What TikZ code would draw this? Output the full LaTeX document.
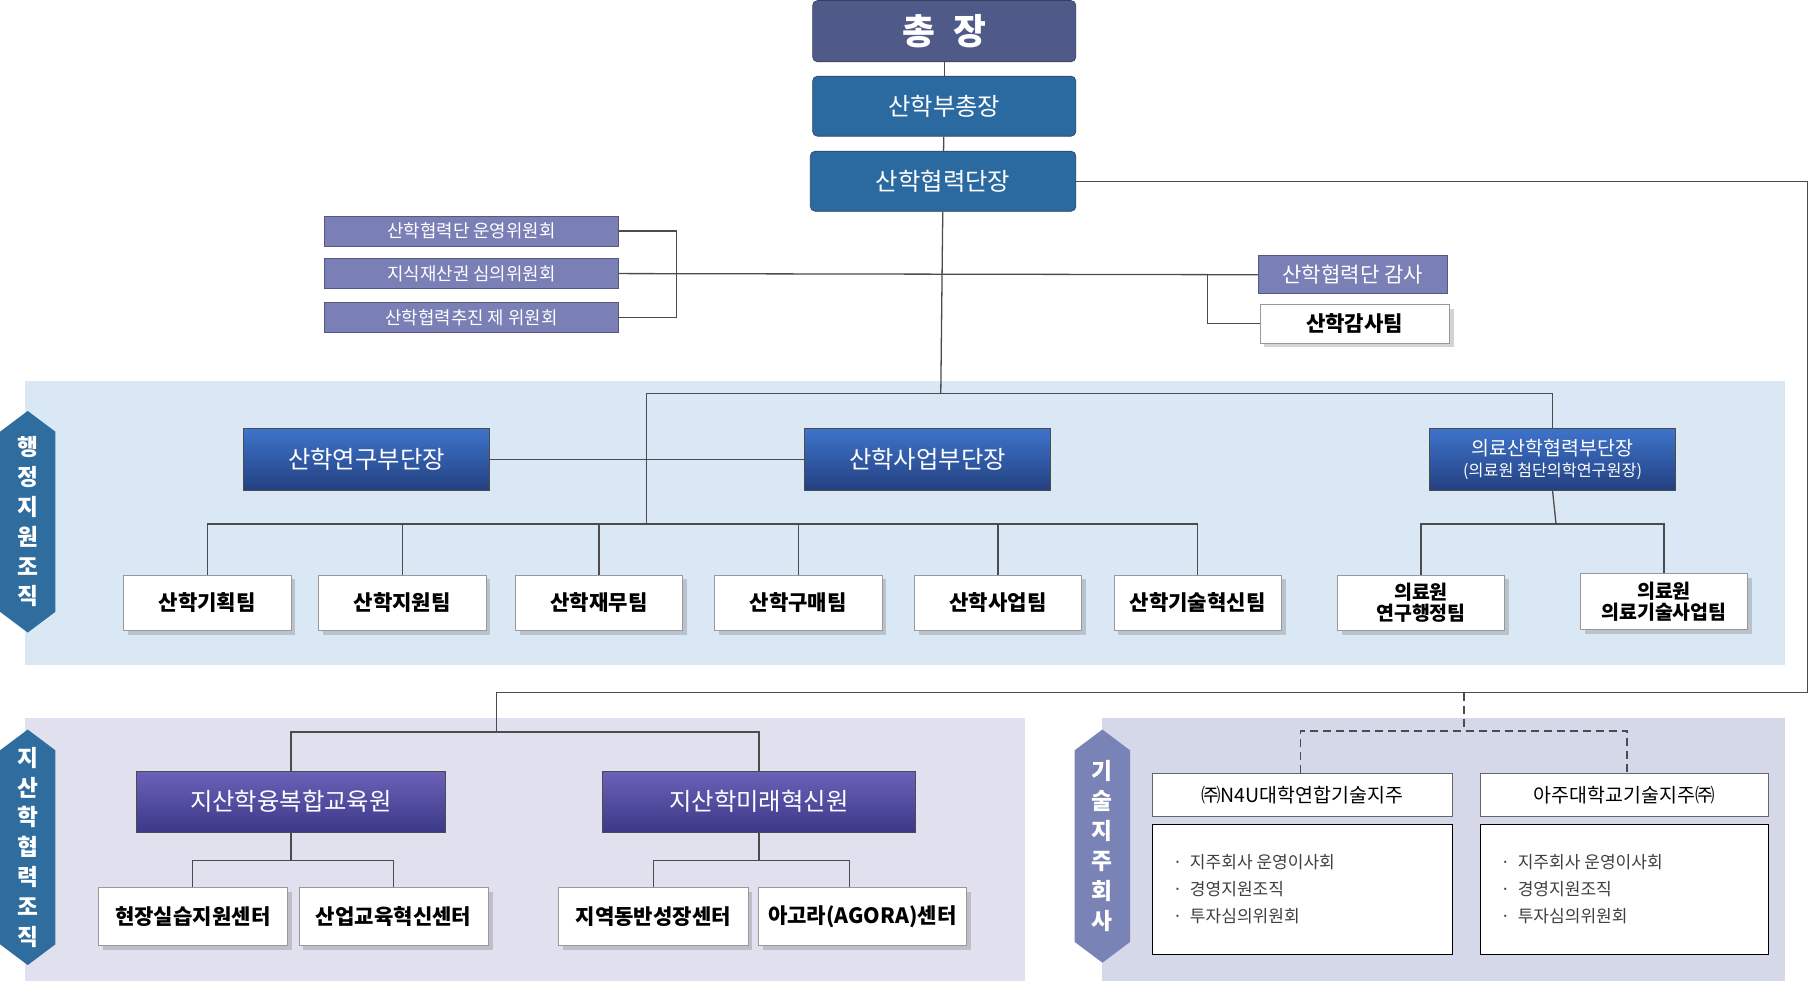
\documentclass[tikz,border=0pt]{standalone}
\usepackage{fontspec}
\setmainfont{Noto Sans CJK KR}
\usetikzlibrary{positioning, shadows, calc}
\definecolor{presblue}{HTML}{4F5A88}
\definecolor{deanblue}{HTML}{2A6AA0}
\definecolor{cmtpurple}{HTML}{7A7FB5}
\definecolor{bandblue}{HTML}{DAE8F5}
\definecolor{bandlav}{HTML}{E0E0EF}
\definecolor{bandgray}{HTML}{D5D8E8}
\definecolor{tagblue}{HTML}{2F6D9E}
\definecolor{taglav}{HTML}{7A83B5}
\definecolor{vicetop}{HTML}{3E74CC}
\definecolor{vicebot}{HTML}{23407F}
\definecolor{insttop}{HTML}{6A62B8}
\definecolor{instbot}{HTML}{3C3888}
\tikzset{
  top/.style={rectangle, rounded corners=3pt, draw=presblue!70!black, text=white, minimum width=5.7cm, minimum height=1.3cm},
  cmt/.style={rectangle, fill=cmtpurple, draw=cmtpurple!70!black, text=white, minimum width=6.375cm, minimum height=0.65cm, font=\fontsize{11}{12}\selectfont},
  vice/.style={rectangle, draw=black!70, top color=vicetop, bottom color=vicebot, text=white, minimum width=5.325cm, minimum height=1.35cm, font=\fontsize{15}{17}\selectfont},
  inst/.style={rectangle, draw=black!70, top color=insttop, bottom color=instbot, text=white, minimum height=1.325cm, font=\fontsize{15}{17}\selectfont},
  team/.style={rectangle, draw=black!40, fill=white, drop shadow={opacity=0.35}, minimum width=3.625cm, minimum height=1.2cm, font=\bfseries\fontsize{13}{14}\selectfont, align=center},
  comp/.style={rectangle, draw=black!60, fill=white, minimum height=0.925cm, font=\fontsize{12}{14}\selectfont},
  list/.style={rectangle, draw=black, fill=white, minimum height=2.825cm},
  tag/.style={text=white, font=\bfseries\fontsize{14}{18.4}\selectfont, align=center},
  line/.style={draw=black!70, thick},
}
\newcommand{\hextag}[4]{% x center, top, bottom, colour
  \fill[#4] (#1-24,#2+18) -- (#1,#2) -- (#1+24,#2+18) -- (#1+24,#3-18) -- (#1,#3) -- (#1-24,#3-18) -- cycle;}
\begin{document}
\begin{tikzpicture}[x=0.025cm, y=-0.025cm]
\useasboundingbox (0,0) rectangle (1568,850);

% bands
\fill[bandblue] (22,330) rectangle (1546,576);
\fill[bandlav] (22,622) rectangle (888,850);
\fill[bandgray] (955,622) rectangle (1546,850);

% side tags
\hextag{24}{356}{548}{tagblue}
\node[tag] (tagadm) at (24,452) {행\\정\\지\\원\\조\\직};
\hextag{24}{632}{836}{tagblue}
\node[tag] (tagreg) at (24,734) {지\\산\\학\\협\\력\\조\\직};
\hextag{955}{632}{834}{taglav}
\node[tag] (tagcomp) at (955,733) {기\\술\\지\\주\\회\\사};

% top line
\node[top, fill=presblue, minimum height=1.325cm, font=\bfseries\fontsize{22}{24}\selectfont] (pres) at (818,27) {총\hspace{0.5em}장};
\node[top, fill=deanblue, font=\fontsize{15}{17}\selectfont] (vpres) at (818,92) {산학부총장};
\node[top, fill=deanblue, minimum width=5.75cm, font=\fontsize{15}{17}\selectfont] (head) at (817,157) {산학협력단장};

% committees and audit
\node[cmt] (cmta) at (408.5,200) {산학협력단 운영위원회};
\node[cmt] (cmtb) at (408.5,237) {지식재산권 심의위원회};
\node[cmt] (cmtc) at (408.5,275) {산학협력추진 제 위원회};
\node[cmt, minimum width=4.1cm, minimum height=0.825cm, font=\fontsize{13}{14}\selectfont] (audit) at (1172,238) {산학협력단 감사};
\node[team, minimum width=4.1cm, minimum height=0.825cm] (auditteam) at (1173.5,280.5) {산학감사팀};

% vice deans
\node[vice] (vresearch) at (317.5,398) {산학연구부단장};
\node[vice] (vbusiness) at (803.5,398) {산학사업부단장};
\node[vice, align=center, font=\fontsize{12}{13}\selectfont] (vmed) at (1345,398) {의료산학협력부단장\\{\fontsize{10}{11}\selectfont(의료원 첨단의학연구원장)}};

% teams
\node[team] (tplan) at (179.5,522) {산학기획팀};
\node[team] (tsupport) at (348.5,522) {산학지원팀};
\node[team] (tfin) at (519,522) {산학재무팀};
\node[team] (tbuy) at (691.5,522) {산학구매팀};
\node[team] (tbiz) at (864.5,522) {산학사업팀};
\node[team] (ttech) at (1037.5,522) {산학기술혁신팀};
\node[team, font=\bfseries\fontsize{12}{13}\selectfont] (tmedadm) at (1231,522) {의료원\\연구행정팀};
\node[team, font=\bfseries\fontsize{12}{13}\selectfont] (tmedtech) at (1441.5,521) {의료원\\의료기술사업팀};

% regional institutes
\node[inst, minimum width=6.7cm] (edu) at (252,694.5) {지산학융복합교육원};
\node[inst, minimum width=6.775cm] (innov) at (657.5,694.5) {지산학미래혁신원};
\node[team, minimum width=4.1cm, minimum height=1.25cm] (cfield) at (167,794) {현장실습지원센터};
\node[team, minimum width=4.1cm, minimum height=1.25cm] (cind) at (341,794) {산업교육혁신센터};
\node[team, minimum width=4.1cm, minimum height=1.25cm] (cregion) at (566,794) {지역동반성장센터};
\node[team, minimum width=4.5cm, minimum height=1.25cm] (cagora) at (747,794) {아고라(AGORA)센터};

% holding companies
\node[comp, minimum width=6.5cm] (hn4u) at (1128,688.5) {㈜N4U대학연합기술지주};
\node[comp, minimum width=6.25cm] (hajou) at (1407,688.5) {아주대학교기술지주㈜};
\node[list, minimum width=6.5cm] (ln4u) at (1128,770.5) {};
\node[list, minimum width=6.25cm] (lajou) at (1407,770.5) {};
\foreach \l/\x in {ln4u/1011, lajou/1295}{
  \node[anchor=west, text=black!75, align=left, font=\fontsize{10.5}{16.7}\selectfont] at (\x,770) {·\ \ 지주회사 운영이사회\\·\ \ 경영지원조직\\·\ \ 투자심의위원회};
}

% connectors
\coordinate (cmtbus) at (586,237);
\coordinate (audbus) at (1046,237);
\coordinate (mainbus) at (815,341);
\coordinate (teambus) at (560,454);
\coordinate (medbus) at (1348,454);
\coordinate (rightturn) at (1566,157);
\coordinate (lowbus) at (1566,600);
\coordinate (regbus) at (430,600);
\coordinate (compbus) at (1268,600);
\draw[line] (pres) -- (vpres);
\draw[line] (vpres) -- (head);
\draw[line] (head) -- (mainbus);
\draw[line] (cmta.east) -| (cmtbus) |- (cmtc.east);
\draw[line] (cmtb.east) -- (audit.west);
\draw[line] (audbus) |- (auditteam.west);
\draw[line] (mainbus) -| (teambus);
\draw[line] (mainbus) -| (vmed.north);
\draw[line] (vresearch) -- (vbusiness);
\draw[line] (tplan.north) |- (teambus) -| (ttech.north);
\foreach \t in {tsupport, tfin, tbuy, tbiz}{
  \draw[line] (\t.north) -- (\t.north |- teambus);
}
\draw[line] (vmed.south) -- (medbus);
\draw[line] (tmedadm.north) |- (medbus) -| (tmedtech.north);
\draw[line] (head.east) -- (rightturn) -- (lowbus) -- (regbus) -- ++(0,34) coordinate (regsplit);
\draw[line] (edu.north) |- (regsplit) -| (innov.north);
\draw[line] (edu.south) -- ++(0,24) coordinate (edusplit);
\draw[line] (cfield.north) |- (edusplit) -| (cind.north);
\draw[line] (innov.south) -- ++(0,24) coordinate (innsplit);
\draw[line] (cregion.north) |- (innsplit) -| ([xshift=-8]cagora.north);
\draw[line, very thick, dash pattern=on 5pt off 3pt] (compbus) -- ++(0,33) coordinate (compsplit);
\draw[line, very thick, dash pattern=on 5pt off 3pt] ([xshift=-1]hn4u.north) |- (compsplit) -| ([xshift=2]hajou.north);
\end{tikzpicture}
\end{document}
